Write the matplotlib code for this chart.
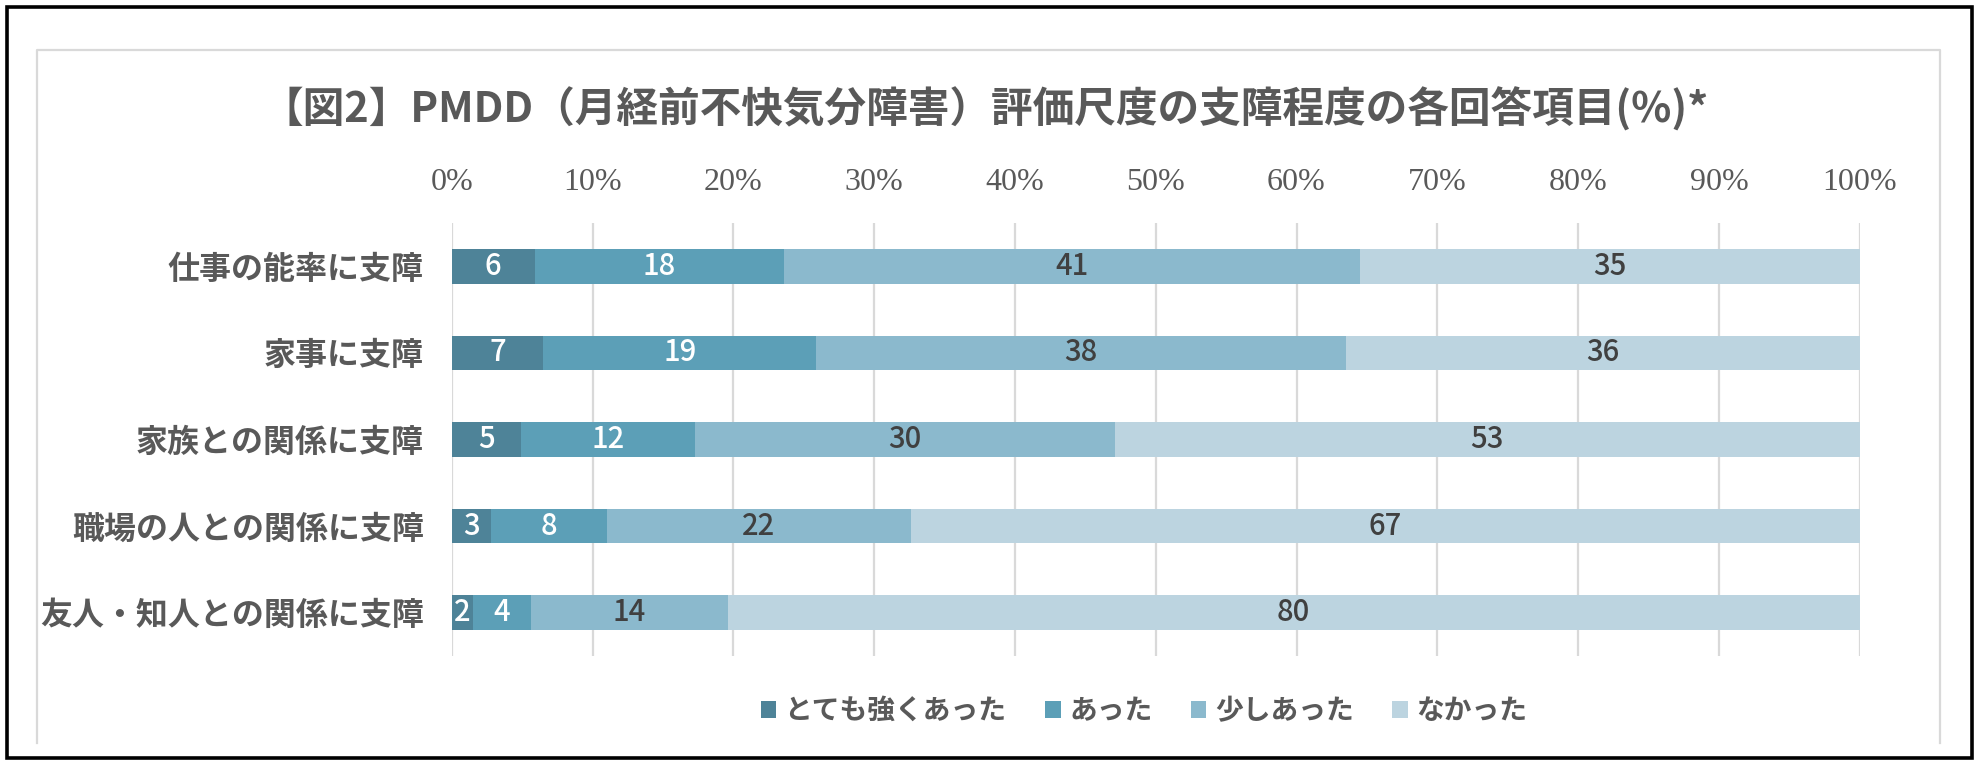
import matplotlib
matplotlib.use("Agg")
import matplotlib.pyplot as plt
import numpy as np
from matplotlib.patches import Patch, Rectangle
from matplotlib.lines import Line2D

plt.rcParams["font.family"] = ["Noto Sans CJK JP", "DejaVu Sans"]

# data (percent) and the labels printed on the bars
categories = ["仕事の能率に支障", "家事に支障", "家族との関係に支障",
              "職場の人との関係に支障", "友人・知人との関係に支障"]
series = ["とても強くあった", "あった", "少しあった", "なかった"]
very_strong = [5.9, 6.5, 4.9, 2.8, 1.5]
had = [17.7, 19.4, 12.4, 8.2, 4.1]
a_little = [40.9, 37.6, 29.8, 21.6, 14.0]
none_ = [35.5, 36.5, 52.9, 67.4, 80.4]
labels_very_strong = [6, 7, 5, 3, 2]
labels_had = [18, 19, 12, 8, 4]
labels_a_little = [41, 38, 30, 22, 14]
labels_none = [35, 36, 53, 67, 80]
xticks = [0, 10, 20, 30, 40, 50, 60, 70, 80, 90, 100]

colors = ["#4E8398", "#5C9FB7", "#8BB9CD", "#BCD4E0"]
label_colors = ["white", "white", "#404040", "#404040"]
GRAY_TXT = "#595959"

values = [very_strong, had, a_little, none_]
labels = [labels_very_strong, labels_had, labels_a_little, labels_none]

fig = plt.figure(figsize=(19.82, 7.70), dpi=100)
fig.patch.set_facecolor("white")

# outer black frame and light gray chart border
fig.add_artist(Rectangle((7 / 1982, 1 - 758 / 770), 1965 / 1982, 751 / 770,
                         transform=fig.transFigure, fill=False,
                         edgecolor="black", lw=2.6, zorder=10))
gx0, gx1, gy0 = 37 / 1982, 1940 / 1982, 1 - 50 / 770
gyb = 1 - 743 / 770
fig.add_artist(Line2D([gx0, gx0, gx1, gx1], [gyb, gy0, gy0, gyb],
                      transform=fig.transFigure, color="#D9D9D9", lw=1.6))

ax = fig.add_axes([451.7 / 1982, 1 - 656 / 770, 1408 / 1982, 433 / 770])
y = np.arange(len(categories))
left = np.zeros(len(categories))
for vals, labs, col, lcol, name in zip(values, labels, colors, label_colors, series):
    bars = ax.barh(y, vals, left=left, height=0.4, color=col, label=name, zorder=3)
    for b, lab in zip(bars, labs):
        cx = b.get_x() + b.get_width() / 2
        ax.text(cx, b.get_y() + b.get_height() / 2, str(lab), ha="center",
                va="center", fontsize=21, fontweight="medium", color=lcol, zorder=4)
    left += np.array(vals)

ax.set_xlim(0, 100)
ax.set_ylim(len(categories) - 0.5, -0.5)
ax.set_xticks(xticks)
ax.set_xticklabels([f"{t}%" for t in xticks], family="Liberation Serif",
                   fontsize=23, color=GRAY_TXT)
ax.xaxis.tick_top()
ax.tick_params(axis="x", length=0, pad=19)
ax.set_yticks(y)
ax.set_yticklabels(categories, fontsize=23, fontweight="bold", color=GRAY_TXT)
ax.tick_params(axis="y", length=0, pad=20)
ax.grid(axis="x", color="#D9D9D9", lw=1.6, zorder=0)
ax.set_axisbelow(True)
for s in ax.spines.values():
    s.set_visible(False)

fig.text(985 / 1982, 1 - 109 / 770,
         "【図2】PMDD（月経前不快気分障害）評価尺度の支障程度の各回答項目(%)*",
         ha="center", va="center", fontsize=30, fontweight="bold", color=GRAY_TXT)

handles = [Patch(facecolor=c, edgecolor="none") for c in colors]
leg = fig.legend(handles, series, loc="center", ncol=4,
                 bbox_to_anchor=(1144 / 1982, 1 - 711 / 770), frameon=False,
                 handlelength=0.55, handleheight=0.55, handletextpad=0.3,
                 columnspacing=1.4,
                 prop={"family": "Noto Sans CJK JP", "size": 20, "weight": "bold"})
for t in leg.get_texts():
    t.set_color(GRAY_TXT)

fig.savefig("out.png", dpi=100, facecolor="white")
